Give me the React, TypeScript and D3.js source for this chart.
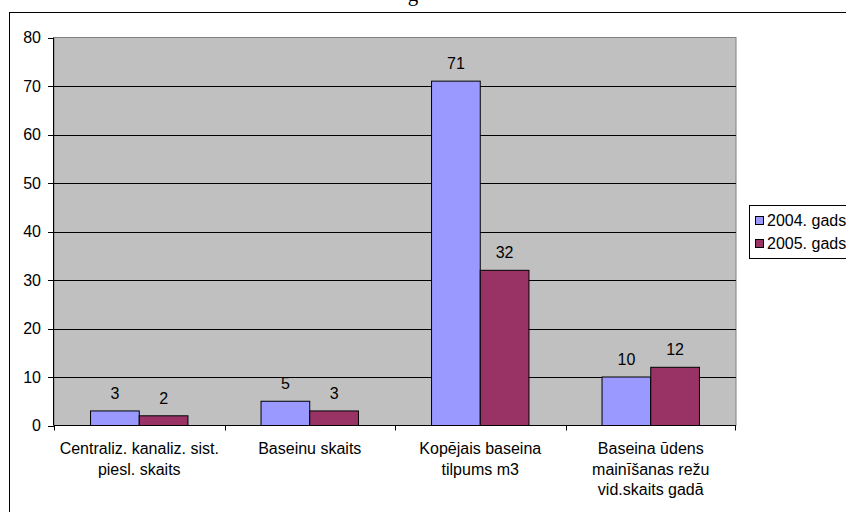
import React from "react";
import * as d3 from "d3";

const categories: string[][] = [
  ["Centraliz. kanaliz. sist.", "piesl. skaits"],
  ["Baseinu skaits"],
  ["Kopējais baseina", "tilpums m3"],
  ["Baseina ūdens", "mainīšanas režu", "vid.skaits gadā"],
];
const seriesNames = ["2004. gads", "2005. gads"];
const values2004 = [3, 5, 71, 10];
const values2005 = [2, 3, 32, 12];
const yTicks = [0, 10, 20, 30, 40, 50, 60, 70, 80];
const colors = ["#9999FF", "#993366"];

const W = 846;
const H = 512;
const left = 54;
const right = 736;
const top = 37.5;
const bottom = 425.5;
const font = "Arial, 'Liberation Sans', sans-serif";
const fs = 16;

export default function App() {
  const x0 = d3
    .scaleBand<number>()
    .domain(categories.map((_, i) => i))
    .range([left, right])
    .paddingInner(0)
    .paddingOuter(0);
  const bw = x0.bandwidth() / 3.5;
  const y = d3.scaleLinear().domain([0, 80]).range([bottom, top]);
  const series = [values2004, values2005];

  return (
    <svg
      width={W}
      height={H}
      style={{ position: "absolute", left: 0, top: 0, background: "#fff" }}
    >
      <text
        x={413}
        y={1}
        textAnchor="middle"
        fontFamily="'Liberation Serif', 'Times New Roman', serif"
        fontSize={21}
      >
        g
      </text>
      {/* outer frame */}
      <rect x={9.5} y={12.5} width={900} height={520} fill="#fff" stroke="#000" strokeWidth={1} />
      {/* plot area */}
      <rect x={left} y={top} width={right - left} height={bottom - top} fill="#C0C0C0" stroke="#808080" strokeWidth={1} />
      {/* gridlines */}
      {yTicks.slice(1, -1).map((t) => (
        <line key={t} x1={left} x2={right} y1={Math.round(y(t)) + 0.5} y2={Math.round(y(t)) + 0.5} stroke="#000" strokeWidth={1} />
      ))}
      {/* bars */}
      {series.map((vals, s) =>
        vals.map((v, i) => {
          const bx = (x0(i) as number) + 0.75 * bw + s * bw;
          return (
            <rect
              key={`${s}-${i}`}
              x={bx}
              y={y(v)}
              width={bw}
              height={bottom - y(v)}
              fill={colors[s]}
              stroke="#000"
              strokeWidth={1}
            />
          );
        })
      )}
      {/* value labels */}
      {series.map((vals, s) =>
        vals.map((v, i) => {
          const bx = (x0(i) as number) + 0.75 * bw + s * bw + bw / 2;
          return (
            <text key={`l${s}-${i}`} x={bx} y={y(v) - 12} textAnchor="middle" fontFamily={font} fontSize={fs}>
              {v}
            </text>
          );
        })
      )}
      {/* y axis */}
      <line x1={left - 0.5} x2={left - 0.5} y1={top} y2={bottom} stroke="#000" />
      {yTicks.map((t) => (
        <g key={t}>
          <line x1={left - 6} x2={left} y1={Math.round(y(t)) + 0.5} y2={Math.round(y(t)) + 0.5} stroke="#000" />
          <text x={left - 13} y={y(t) + 5.5} textAnchor="end" fontFamily={font} fontSize={fs}>
            {t}
          </text>
        </g>
      ))}
      {/* x axis */}
      <line x1={left} x2={right} y1={bottom} y2={bottom} stroke="#000" />
      {categories.map((_, i) => (
        <line key={i} x1={Math.round(x0(i) as number) + 0.5} x2={Math.round(x0(i) as number) + 0.5} y1={bottom} y2={bottom + 5} stroke="#000" />
      ))}
      <line x1={right - 0.5} x2={right - 0.5} y1={bottom} y2={bottom + 5} stroke="#000" />
      {categories.map((lines, i) => (
        <text key={`c${i}`} textAnchor="middle" fontFamily={font} fontSize={fs}>
          {lines.map((ln, j) => (
            <tspan key={j} x={(x0(i) as number) + x0.bandwidth() / 2} y={454 + j * 20.5}>
              {ln}
            </tspan>
          ))}
        </text>
      ))}
      {/* legend */}
      <rect x={749.5} y={205.5} width={120} height={53} fill="#fff" stroke="#000" />
      {seriesNames.map((n, s) => (
        <g key={n}>
          <rect x={755.5} y={216.5 + s * 23} width={8} height={8} fill={colors[s]} stroke="#000" />
          <text x={767} y={226 + s * 23} fontFamily={font} fontSize={fs}>
            {n}
          </text>
        </g>
      ))}
    </svg>
  );
}
